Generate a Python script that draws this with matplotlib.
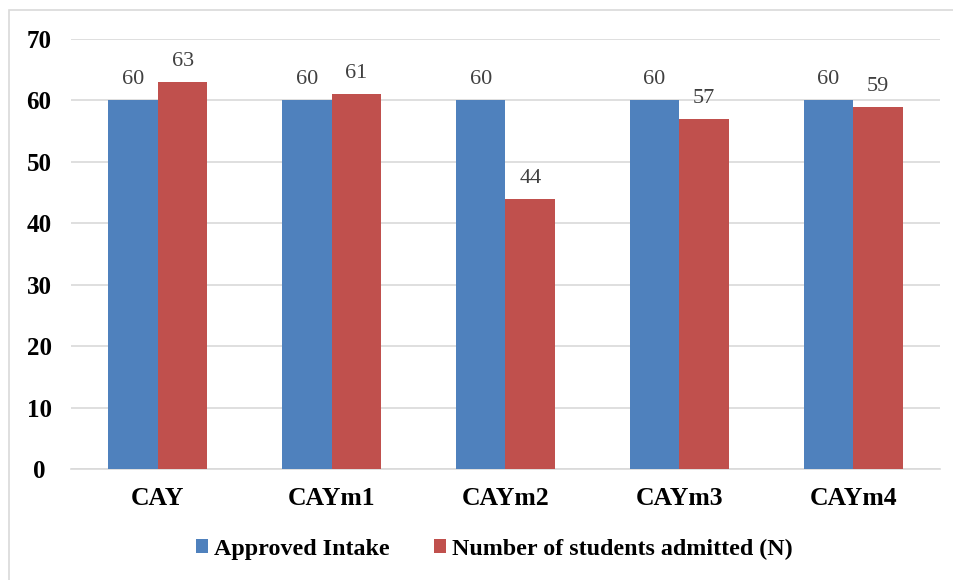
import matplotlib
matplotlib.use("Agg")
import matplotlib.pyplot as plt
from matplotlib.patches import Rectangle
import numpy as np

categories = ["CAY", "CAYm1", "CAYm2", "CAYm3", "CAYm4"]
approved_intake = [60, 60, 60, 60, 60]
students_admitted = [63, 61, 44, 57, 59]
series_names = ["Approved Intake", "Number of students admitted (N)"]
yticks = [0, 10, 20, 30, 40, 50, 60, 70]

BLUE = "#4F81BD"
RED = "#C0504D"
SERIF = ["Liberation Serif", "DejaVu Serif"]

fig = plt.figure(figsize=(9.54, 5.80), dpi=100)
W, H = 954, 580
ax = fig.add_axes([71 / W, 1 - 469 / H, (940 - 71) / W, (469 - 39) / H])

# outer chart border (left and top edges visible)
fig.patches.append(Rectangle((9 / W, -0.05), 1.2, (580 - 10) / H + 0.05,
                             transform=fig.transFigure, fill=False,
                             edgecolor="#D9D9D9", linewidth=1.2))

x = np.arange(len(categories))
bw = 0.285
b1 = ax.bar(x - bw / 2, approved_intake, bw, color=BLUE, label=series_names[0], zorder=3)
b2 = ax.bar(x + bw / 2, students_admitted, bw, color=RED, label=series_names[1], zorder=3)

for bars, vals in ((b1, approved_intake), (b2, students_admitted)):
    for rect, v in zip(bars, vals):
        ax.text(rect.get_x() + rect.get_width() / 2, v + 2.6, f"{v}",
                ha="center", va="baseline", fontsize=16, color="#404040",
                family=SERIF, zorder=4)

ax.set_xlim(-0.5, len(categories) - 0.5)
ax.set_ylim(0, 70)
ax.set_yticks(yticks)
ax.set_yticklabels([str(t) for t in yticks], fontsize=18, fontweight="bold", family=SERIF)
ax.set_xticks(x)
ax.set_xticklabels(categories, fontsize=18.5, fontweight="bold", family=SERIF)
ax.tick_params(axis="both", length=0)
ax.tick_params(axis="y", pad=23)
ax.tick_params(axis="x", pad=13)
for lbl in ax.get_yticklabels():
    lbl.set_horizontalalignment("center")

ax.yaxis.grid(True, color="#D9D9D9", linewidth=1.2, zorder=0)
ax.set_axisbelow(True)
for s in ("top", "right", "left"):
    ax.spines[s].set_visible(False)
ax.spines["bottom"].set_color("#D9D9D9")
ax.spines["bottom"].set_linewidth(1.2)

leg = fig.legend(handles=[b1, b2], labels=series_names, loc="center",
                 bbox_to_anchor=(494 / W, 1 - 549 / H), ncol=2, frameon=False,
                 prop={"family": SERIF, "weight": "bold", "size": 17.3},
                 handlelength=0.5, handleheight=0.5, handletextpad=0.25,
                 columnspacing=1.85, borderpad=0.0)

fig.savefig("out.png", dpi=100)
